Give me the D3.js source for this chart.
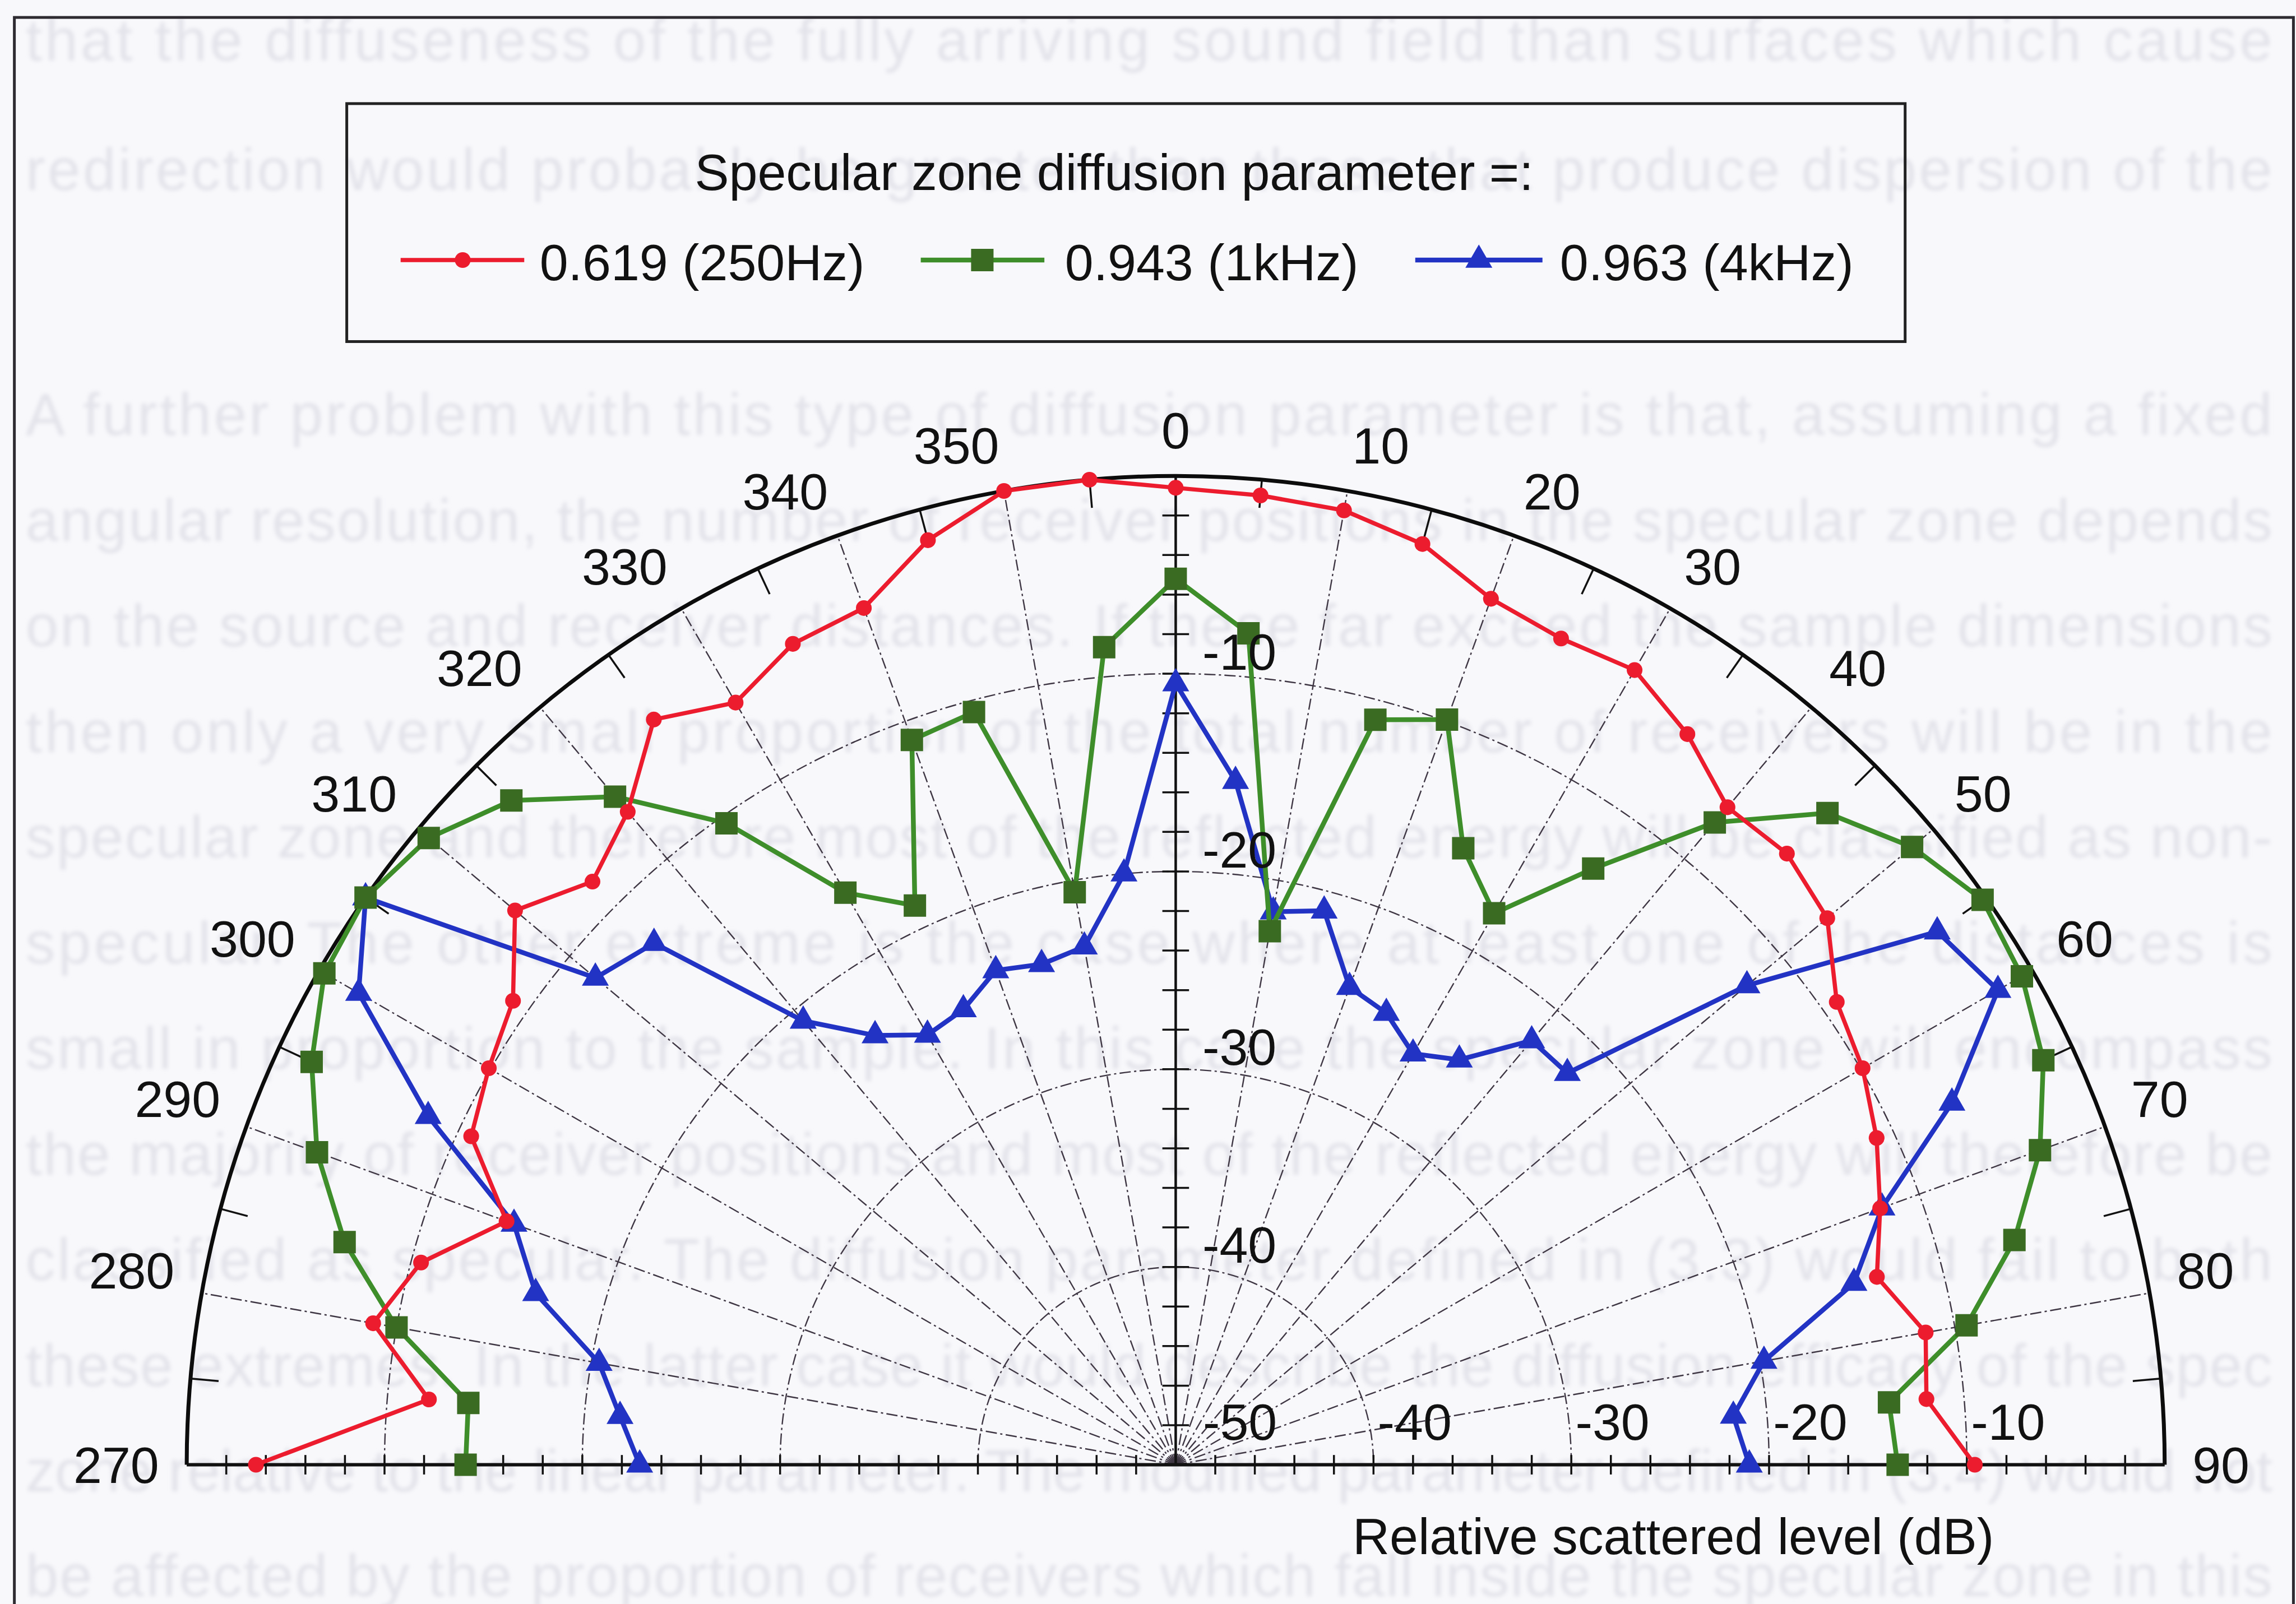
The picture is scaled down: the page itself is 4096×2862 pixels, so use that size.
<!DOCTYPE html>
<html>
<head>
<meta charset="utf-8">
<script src="https://cdn.jsdelivr.net/npm/d3@7"></script>
<style>
  html, body { margin: 0; padding: 0; background: #f8f8fb; }
  svg { display: block; }
</style>
</head>
<body>
<svg id="chart" width="4096" height="2862"></svg>
<script>
// Receiver angles (degrees, 0 = normal direction, 270..355 left, 5..90 right)
const angles = [270,275,280,285,290,295,300,305,310,315,320,325,330,335,340,345,350,355,
                0,5,10,15,20,25,30,35,40,45,50,55,60,65,70,75,80,85,90];

// Relative scattered level (dB) for each angle
const level250Hz = [-3.5,-12.1,-8.8,-10.5,-14.0,-10.7,-9.9,-9.1,-6.4,-8.3,-6.9,-4.0,-5.5,-4.2,-3.9,-1.6,0.0,0.0,
                    -0.6,-0.8,-1.0,-1.8,-3.4,-3.9,-3.6,-4.9,-6.6,-6.3,-7.0,-9.2,-9.9,-10.9,-12.1,-13.3,-11.5,-11.9,-9.6];
const level1kHz  = [-14.1,-14.1,-10.0,-6.5,-3.8,-1.8,-0.3,0.0,-0.7,-2.5,-5.9,-10.4,-16.6,-18.8,-11.0,-10.6,-20.6,-8.5,
                    -5.2,-7.8,-22.6,-11.0,-9.9,-15.6,-17.8,-13.2,-7.6,-3.4,-1.4,-0.2,-0.6,-1.6,-3.5,-6.1,-9.4,-13.8,-13.5];
const level4kHz  = [-22.9,-21.8,-20.4,-16.5,-14.4,-8.3,-2.3,0.0,-11.7,-12.7,-20.7,-23.5,-24.9,-24.6,-23.4,-23.8,-23.4,-20.0,
                    -10.5,-15.3,-21.6,-21.0,-24.3,-24.8,-26.0,-25.0,-22.0,-22.0,-12.3,-3.0,-2.0,-6.7,-12.0,-14.5,-19.8,-21.7,-21.0];

const seriesLabels = ["0.619 (250Hz)", "0.943 (1kHz)", "0.963 (4kHz)"];
const angleTickLabels = [270,280,290,300,310,320,330,340,350,0,10,20,30,40,50,60,70,80,90];
const levelTickLabels = [-50,-40,-30,-20,-10];
const legendTitle = "Specular zone diffusion parameter =:";
const axisTitle = "Relative scattered level (dB)";

// Body text of the page the figure sits on
const pageLines = [
  "that the diffuseness of the fully arriving sound field than surfaces which cause",
  "redirection would probably be greater than those that produce dispersion of the",
  "A further problem with this type of diffusion parameter is that, assuming a fixed",
  "angular resolution, the number of receiver positions in the specular zone depends",
  "on the source and receiver distances. If these far exceed the sample dimensions",
  "then only a very small proportion of the total number of receivers will be in the",
  "specular zone and therefore most of the reflected energy will be classified as non-",
  "specular. The other extreme is the case where at least one of the distances is",
  "small in proportion to the sample. In this case the specular zone will encompass",
  "the majority of receiver positions and most of the reflected energy will therefore be",
  "classified as specular. The diffusion parameter defined in (3.3) would fail to both",
  "these extremes. In the latter case it would describe the diffusion efficacy of the spec",
  "zone relative to the linear parameter. The modified parameter defined in (3.4) would not",
  "be affected by the proportion of receivers which fall inside the specular zone in this"
];
const pageLineY = [118, 370, 848, 1054, 1260, 1466, 1672, 1878, 2084, 2290, 2496, 2702, 2908, 3112];

// ---------------------------------------------------------------------------
const k = 4096 / 4476;                       // drawing scale
const FONT = '"Liberation Sans", Arial, Helvetica, sans-serif';
const fs = 100 * k;
const svg = d3.select("#chart");

const cx = 2292 * k, cy = 2856 * k, R = 1928 * k;
const radius = d3.scaleLinear().domain([-50, 0]).range([0, R]);
const angle = d3.scaleLinear().domain([-180, 180]).range([-Math.PI, Math.PI]);
const signed = d => (d > 180 ? d - 360 : d);

const defs = svg.append("defs");
defs.append("filter").attr("id", "soft")
  .attr("x", "-5%").attr("y", "-50%").attr("width", "110%").attr("height", "200%")
  .append("feGaussianBlur").attr("stdDeviation", 3.5);

svg.append("rect").attr("width", 4096).attr("height", 2862).attr("fill", "#f8f8fb");

// faint page text showing through behind the figure
const page = svg.append("g").attr("filter", "url(#soft)")
  .attr("fill", "#e3e3ea")
  .style("font-family", FONT).style("font-size", (115 * k) + "px");
page.selectAll("text").data(pageLines).join("text")
  .attr("x", 50 * k)
  .attr("y", (d, i) => pageLineY[i] * k)
  .attr("textLength", 4380 * k)
  .attr("lengthAdjust", "spacing")
  .text(d => d);

// figure frame
svg.append("rect")
  .attr("x", 28 * k).attr("y", 34 * k)
  .attr("width", (4471 - 28) * k).attr("height", 3300 * k)
  .attr("fill", "none").attr("stroke", "#2e2b31").attr("stroke-width", 5);

// legend
const lg = svg.append("g").style("font-family", FONT).style("font-size", fs + "px").attr("fill", "#111");
lg.append("rect")
  .attr("x", 676 * k).attr("y", 202 * k)
  .attr("width", 3038 * k).attr("height", 464 * k)
  .attr("fill", "none").attr("stroke", "#222").attr("stroke-width", 5);
lg.append("text").attr("x", 2172 * k).attr("y", 370 * k)
  .attr("text-anchor", "middle").text(legendTitle);

const styles = [
  { line: "#ec1c2e", mark: "#ec1c2e", type: d3.symbolCircle,   size: 620,  width: 7.5 },
  { line: "#3e8e2a", mark: "#3a6b22", type: d3.symbolSquare,   size: 1600, width: 8.5 },
  { line: "#2233c4", mark: "#2233c4", type: d3.symbolTriangle, size: 1000, width: 8.5 }
];
const legendPos = [
  { x1: 781, x2: 1022, m: 902,  t: 1052 },
  { x1: 1795, x2: 2036, m: 1915, t: 2076 },
  { x1: 2759, x2: 3007, m: 2883, t: 3041 }
];
legendPos.forEach((p, i) => {
  const st = styles[i];
  lg.append("line").attr("x1", p.x1 * k).attr("x2", p.x2 * k)
    .attr("y1", 507 * k).attr("y2", 507 * k)
    .attr("stroke", st.line).attr("stroke-width", st.width);
  lg.append("path").attr("d", d3.symbol().type(st.type).size(st.size)())
    .attr("transform", `translate(${p.m * k},${507 * k})`).attr("fill", st.mark);
  lg.append("text").attr("x", p.t * k).attr("y", 546 * k).text(seriesLabels[i]);
});

// polar plot
const g = svg.append("g").attr("transform", `translate(${cx},${cy})`);
const semi = rr => `M${-rr},0A${rr},${rr} 0 0 1 ${rr},0`;
const grid = { stroke: "#3e3643", width: 2.4, dash: "20,6,4,6" };

// dashed level circles
g.selectAll(".ring").data(levelTickLabels.filter(v => v > -50)).join("path")
  .attr("d", v => semi(radius(v)))
  .attr("fill", "none").attr("stroke", grid.stroke)
  .attr("stroke-width", grid.width).attr("stroke-dasharray", grid.dash);

// dashed radial lines every 10 degrees
const spokes = angleTickLabels.filter(t => t !== 0 && t !== 90 && t !== 270);
g.selectAll(".spoke").data(spokes).join("line")
  .attr("x1", 0).attr("y1", 0)
  .attr("x2", t => d3.pointRadial(angle(signed(t)), R)[0])
  .attr("y2", t => d3.pointRadial(angle(signed(t)), R)[1])
  .attr("stroke", grid.stroke).attr("stroke-width", grid.width)
  .attr("stroke-dasharray", grid.dash);

// short ticks on the rim at the 5-degree marks
const minor = d3.range(275, 360, 10).concat(d3.range(5, 90, 10));
g.selectAll(".rimtick").data(minor).join("line")
  .attr("x1", t => d3.pointRadial(angle(signed(t)), R - 55 * k)[0])
  .attr("y1", t => d3.pointRadial(angle(signed(t)), R - 55 * k)[1])
  .attr("x2", t => d3.pointRadial(angle(signed(t)), R)[0])
  .attr("y2", t => d3.pointRadial(angle(signed(t)), R)[1])
  .attr("stroke", "#111").attr("stroke-width", 3.5);

// level ticks every 2 dB
const smallSteps = d3.range(-48, 0, 2);
g.selectAll(".vtick").data(smallSteps).join("line")
  .attr("x1", -26 * k).attr("x2", 26 * k)
  .attr("y1", v => -radius(v)).attr("y2", v => -radius(v))
  .attr("stroke", "#111").attr("stroke-width", 3.5);
g.selectAll(".htick").data(smallSteps.flatMap(v => [radius(v), -radius(v)])).join("line")
  .attr("x1", x => x).attr("x2", x => x)
  .attr("y1", -19 * k).attr("y2", 19 * k)
  .attr("stroke", "#111").attr("stroke-width", 3.5);

// axes and rim
g.append("line").attr("x1", 0).attr("y1", 0).attr("x2", 0).attr("y2", -R)
  .attr("stroke", "#111").attr("stroke-width", 4.5);
g.append("line").attr("x1", -R).attr("y1", 0).attr("x2", R).attr("y2", 0)
  .attr("stroke", "#111").attr("stroke-width", 6);
g.append("path").attr("d", semi(R)).attr("fill", "none")
  .attr("stroke", "#0c0c0c").attr("stroke-width", 7);

// data series (4 kHz underneath, 250 Hz on top)
const sets = [level250Hz, level1kHz, level4kHz];
const lineGen = d3.lineRadial()
  .angle(d => angle(signed(d.a)))
  .radius(d => radius(d.v));
[2, 1, 0].forEach(i => {
  const st = styles[i];
  const pts = angles.map((a, j) => ({ a: a, v: sets[i][j] }));
  g.append("path").datum(pts).attr("d", lineGen)
    .attr("fill", "none").attr("stroke", st.line)
    .attr("stroke-width", st.width).attr("stroke-linejoin", "round");
  g.selectAll(".m" + i).data(pts).join("path")
    .attr("d", d3.symbol().type(st.type).size(st.size)())
    .attr("transform", d => {
      const p = d3.pointRadial(angle(signed(d.a)), radius(d.v));
      return `translate(${p[0]},${p[1]})`;
    })
    .attr("fill", st.mark);
});

// labels
const lab = g.append("g").style("font-family", FONT).style("font-size", fs + "px").attr("fill", "#111");
const Ra = 1982 * k;
lab.selectAll(".alab").data(angleTickLabels).join("text")
  .attr("x", t => d3.pointRadial(angle(signed(t)), Ra)[0])
  .attr("y", t => d3.pointRadial(angle(signed(t)), Ra)[1])
  .attr("dy", t => (Math.abs(signed(t)) === 90 ? "0.36em" : 0))
  .attr("text-anchor", t => (signed(t) > 0 ? "start" : signed(t) < 0 ? "end" : "middle"))
  .text(t => t);

// level labels up the 0-degree axis
lab.selectAll(".vlab").data(levelTickLabels.filter(v => v > -50)).join("text")
  .attr("x", 52 * k)
  .attr("y", v => -radius(v) - 8 * k)
  .text(v => v);
// level labels along the baseline
lab.selectAll(".hlab").data(levelTickLabels).join("text")
  .attr("x", v => radius(v) + (v === -50 ? 53 * k : 8 * k))
  .attr("y", -49 * k)
  .text(v => v);

svg.append("text")
  .attr("x", 3262 * k).attr("y", 3030 * k)
  .attr("text-anchor", "middle")
  .style("font-family", FONT).style("font-size", fs + "px").attr("fill", "#111")
  .text(axisTitle);
</script>
</body>
</html>
